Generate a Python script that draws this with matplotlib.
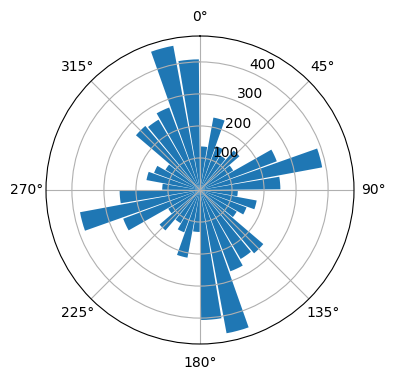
import numpy as np
import matplotlib
matplotlib.use("Agg")
import matplotlib.pyplot as plt

directions_deg = [5, 15, 25, 35, 45, 55, 65, 75, 85, 95, 105, 115,
                  125, 135, 145, 155, 165, 175, 185, 195, 205, 215, 225, 235,
                  245, 255, 265, 275, 285, 295, 305, 315, 325, 335, 345, 355]
counts = [136, 230, 146, 125, 162, 120, 256, 388, 251, 118, 180, 155,
          133, 260, 250, 271, 455, 406, 131, 215, 141, 120, 166, 115,
          256, 381, 251, 118, 170, 153, 125, 263, 255, 275, 458, 408]

fig = plt.figure(figsize=(3.96, 3.8), dpi=100)
ax = fig.add_axes([46/396, 36/380, 308/396, 308/380], projection='polar')
ax.set_theta_zero_location('N')
ax.set_theta_direction(-1)

theta = np.deg2rad(directions_deg)
ax.bar(theta, counts, width=np.deg2rad(9.0), color='#1f77b4')
ax.set_rticks([100, 200, 300, 400])

fig.savefig('out.png', dpi=100)
